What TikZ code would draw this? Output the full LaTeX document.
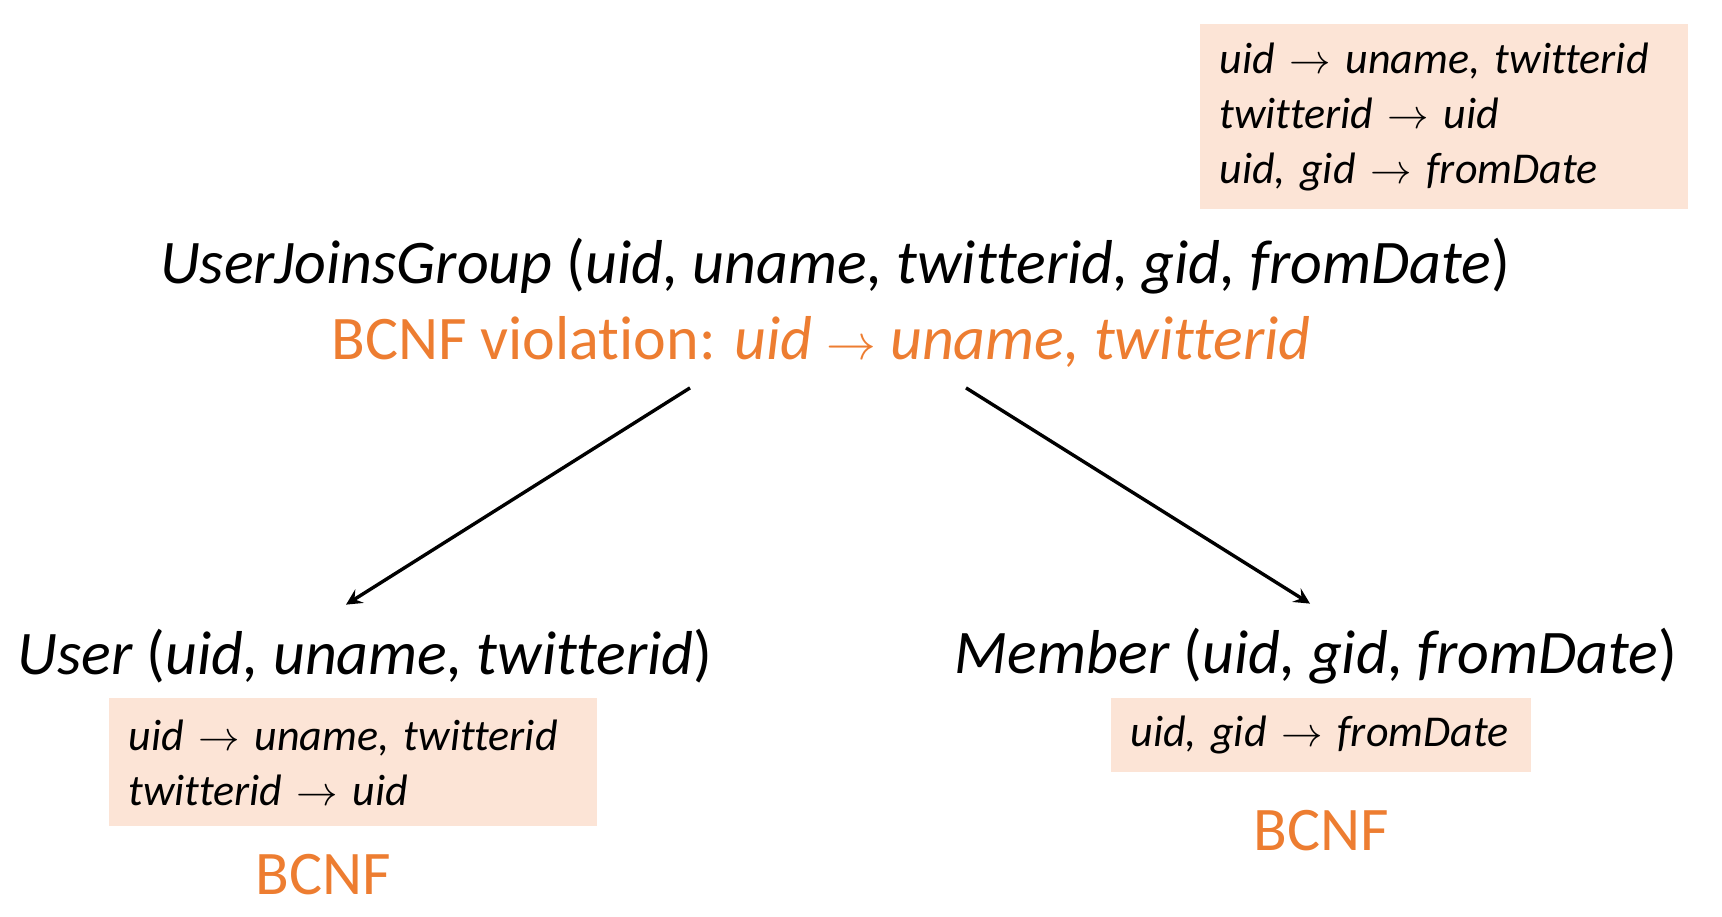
\documentclass[tikz,border=0pt]{standalone}
\usepackage{fontspec}
\setmainfont[Ligatures=NoCommon]{Carlito}
\usetikzlibrary{arrows.meta, positioning}
\definecolor{bcnforange}{HTML}{ED7D31}
\definecolor{fdfill}{HTML}{FCE4D6}

\begin{document}
\begin{tikzpicture}[x=0.5pt, y=-0.5pt,
    relation/.style={font=\fontsize{31}{36}\selectfont, inner sep=0pt},
    fdbox/.style={fill=fdfill, align=left, anchor=north west, inner xsep=9.5pt,
      inner ysep=0pt, font=\fontsize{22}{27.5}\selectfont\itshape},
    verdict/.style={text=bcnforange, font=\fontsize{31}{36}\selectfont, inner sep=0pt},
    split/.style={-{Stealth[length=8pt, width=8pt, inset=3pt]}, line width=1.7pt}]
  \useasboundingbox (0,0) rectangle (1722,916);
  % dependencies of the whole relation
  \node[fdbox, text width=225pt, minimum height=92.5pt] (fd_all) at (1200,24)
    {uid $\rightarrow$ uname, twitterid\\ twitterid $\rightarrow$ uid\\ uid, gid $\rightarrow$ fromDate};
  \node[relation] (ujg)  at (835,266)
    {\textit{UserJoinsGroup} (\textit{uid, uname, twitterid, gid, fromDate})};
  \node[verdict]  (viol) at (821,342)
    {BCNF violation: \textit{uid $\rightarrow$ uname, twitterid}};
  % the two parts
  \node[relation] (user)   at (365,656)  {\textit{User} (\textit{uid, uname, twitterid})};
  \node[relation] (member) at (1316,656) {\textit{Member} (\textit{uid, gid, fromDate})};
  \node[fdbox, text width=225pt, minimum height=64pt] (fd_user) at (109,698)
    {uid $\rightarrow$ uname, twitterid\\ twitterid $\rightarrow$ uid};
  \node[fdbox, text width=191pt, minimum height=37pt] (fd_member) at (1111,698)
    {uid, gid $\rightarrow$ fromDate};
  \node[verdict] (bcnf_user)   at (323,875)  {BCNF};
  \node[verdict] (bcnf_member) at (1321,831) {BCNF};
  \path[split]
    ([xshift=-65.5pt, yshift=-10pt]viol.south) edge ([xshift=-9.5pt, yshift=12pt]user.north)
    ([xshift=72.5pt, yshift=-10pt]viol.south)  edge ([xshift=-3pt, yshift=12pt]member.north);
\end{tikzpicture}
\end{document}
